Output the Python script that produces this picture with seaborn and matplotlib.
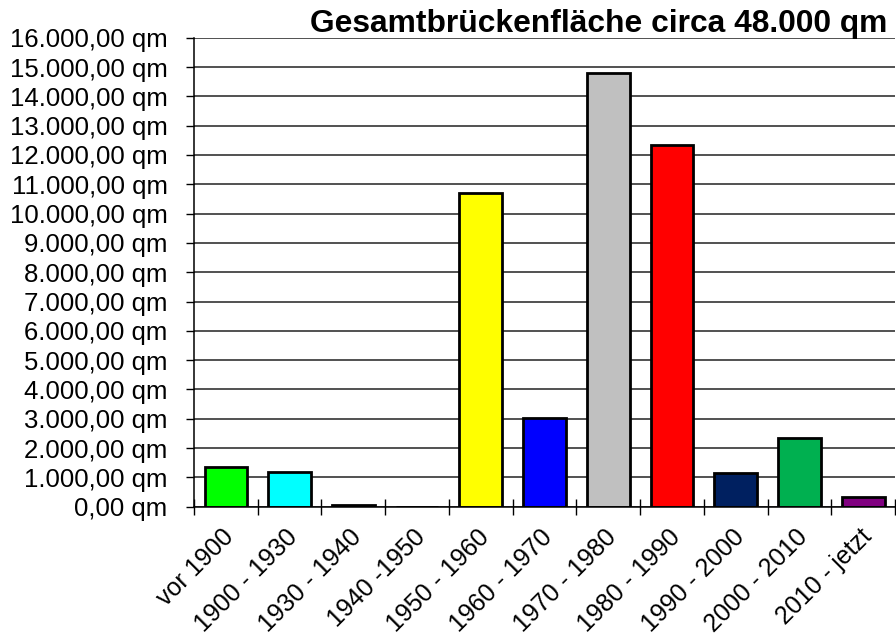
import matplotlib
matplotlib.use('Agg')
import matplotlib.pyplot as plt
import matplotlib.transforms as mtransforms
from matplotlib.ticker import FuncFormatter, MultipleLocator, FixedLocator
import seaborn as sns
import pandas as pd

zeitraum = ['vor 1900', '1900 - 1930', '1930 - 1940', '1940 -1950', '1950 - 1960',
            '1960 - 1970', '1970 - 1980', '1980 - 1990', '1990 - 2000', '2000 - 2010',
            '2010 - jetzt']
flaeche = [1365, 1195, 75, 0, 10715, 3020, 14795, 12340, 1160, 2330, 330]
farben = ['#00ff00', '#00ffff', '#000000', '#ffffff', '#ffff00', '#0000ff',
          '#c0c0c0', '#ff0000', '#002060', '#00b050', '#800080']

titel = 'Gesamtbrückenfläche circa 48.000 qm'


def qm(v, pos):
    s = f'{v:,.2f}'.replace(',', 'X').replace('.', ',').replace('X', '.')
    return s + ' qm'


def main():
    sns.set_style('white')
    plt.rcParams['font.family'] = ['Liberation Sans', 'DejaVu Sans']
    plt.rcParams['text.color'] = 'black'
    plt.rcParams['xtick.color'] = 'black'
    plt.rcParams['ytick.color'] = 'black'

    df = pd.DataFrame({'zeitraum': zeitraum, 'flaeche': flaeche})

    fig = plt.figure(figsize=(8.96, 6.41), dpi=100)
    ax = fig.add_axes([0.2165, 0.2095, 0.7825, 0.7317])

    sns.barplot(data=df, x='zeitraum', y='flaeche', hue='zeitraum',
                palette=farben, legend=False, width=0.67,
                edgecolor='black', linewidth=2, saturation=1, ax=ax)

    ax.set_xlim(-0.5, len(zeitraum) - 0.5)
    ax.set_ylim(0, 16000)
    ax.yaxis.set_major_locator(MultipleLocator(1000))
    ax.yaxis.set_major_formatter(FuncFormatter(qm))
    ax.grid(axis='y', color='#222222', linewidth=1.1)
    ax.set_axisbelow(True)
    ax.set_xlabel('')
    ax.set_ylabel('')

    for s in ['top', 'right']:
        ax.spines[s].set_visible(False)
    for s in ['left', 'bottom']:
        ax.spines[s].set_color('black')
        ax.spines[s].set_linewidth(1.1)

    ax.tick_params(axis='y', direction='out', length=6, width=1,
                   labelsize=18.5, pad=13, left=True, labelcolor='black')
    ax.tick_params(axis='x', which='major', length=0, labelsize=18, pad=13,
                   labelcolor='black')
    ax.xaxis.set_minor_locator(FixedLocator([i - 0.5 for i in range(len(zeitraum) + 1)]))
    ax.tick_params(axis='x', which='minor', direction='inout', length=12, width=1,
                   bottom=True)

    offset = mtransforms.ScaledTranslation(-4 / 100, 0, fig.dpi_scale_trans)
    for lab in ax.get_xticklabels():
        lab.set_rotation(45)
        lab.set_ha('right')
        lab.set_va('top')
        lab.set_rotation_mode('anchor')
        lab.set_transform(lab.get_transform() + offset)

    fig.text(0.99, 0.962, titel, ha='right', va='center', fontsize=22.9,
             fontweight='bold')

    fig.savefig('out.png', dpi=100)


if __name__ == '__main__':
    main()
